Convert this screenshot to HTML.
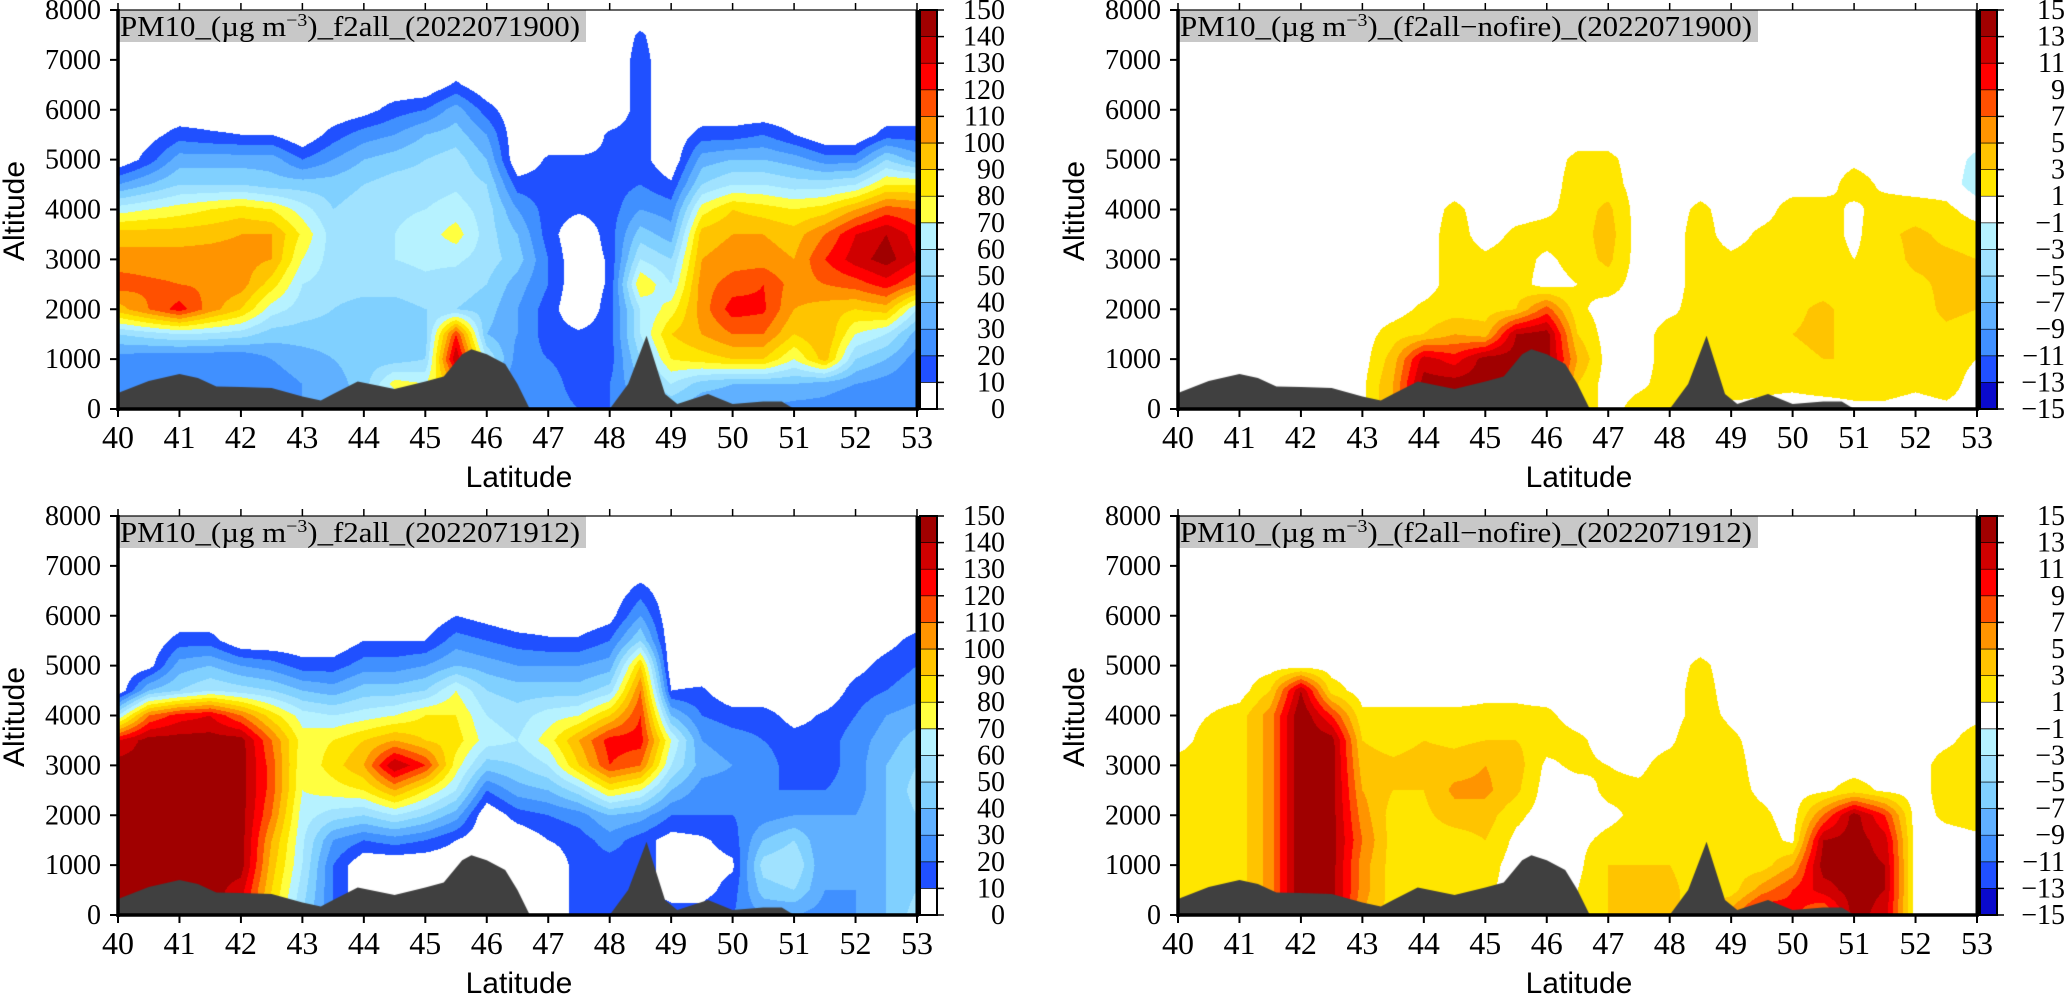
<!DOCTYPE html>
<html><head><meta charset="utf-8">
<style>
html,body{margin:0;padding:0;background:#fff;}
#wrap{position:relative;width:2067px;height:995px;overflow:hidden;background:#fff;}
canvas{position:absolute;}
svg{position:absolute;left:0;top:0;}
</style></head>
<body>
<div id="wrap">
<canvas id="cA" width="799" height="399" style="left:118px;top:10px"></canvas>
<canvas id="cB" width="799" height="399" style="left:1178px;top:10px"></canvas>
<canvas id="cC" width="799" height="399" style="left:118px;top:516px"></canvas>
<canvas id="cD" width="799" height="399" style="left:1178px;top:516px"></canvas>
<svg id="ov" width="2067" height="995"></svg>
</div>
<script>
// ---- data ----
const lats = [40,40.5,41,41.5,42,42.5,43,43.5,44,44.5,45,45.5,46,46.5,47,47.5,48,48.5,49,49.5,50,50.5,51,51.5,52,52.5,53];
const alts = [0,500,1000,1500,2000,2500,3000,3500,4000,4500,5000,5500,6000,6500,7000,7500,8000];
const terrainLat = [40,40.5,41,41.3,41.6,42,42.5,43,43.3,43.5,43.9,44.5,45,45.3,45.6,45.75,46,46.3,46.5,46.7,48,48.3,48.6,48.9,49.1,49.6,50,50.5,50.8,51,53];
const terrainAlt = [320,560,700,620,450,440,420,250,170,300,550,400,550,650,1100,1200,1100,900,500,0,0,500,1470,300,100,300,100,150,150,0,0];
const absTicks = [0,10,20,30,40,50,60,70,80,90,100,110,120,130,140,150];
const diffTicks = [-15,-13,-11,-9,-7,-5,-3,-1,1,3,5,7,9,11,13,15];
const absColors = ["#ffffff","#2050ff","#4090ff","#60b0ff","#80d0ff","#a0e2ff","#b6f2ff","#ffff40","#ffe600","#ffc400","#ff9400","#ff5000","#ff0000","#d00000","#a00000"];
const diffColors = ["#0a0acc","#2050ff","#4090ff","#60b0ff","#80d0ff","#a0e2ff","#b6f2ff","#ffffff","#ffe600","#ffc400","#ff9400","#ff5000","#ff0000","#d00000","#a00000"];
const xTicks = [40,41,42,43,44,45,46,47,48,49,50,51,52,53];
const yTicks = [0,1000,2000,3000,4000,5000,6000,7000,8000];

const fieldA = [
[20,20,25,50,95,115,105,95,65,30,0],
[20,20,22,55,110,112,105,95,70,40,15,5],
[20,20,20,60,125,110,105,95,75,50,35,15],
[20,20,20,58,105,108,105,97,80,50,35,12],
[20,20,20,55,90,105,105,100,85,50,35,10],
[25,25,30,45,65,85,100,100,80,45,35,10],
[30,30,35,45,55,60,70,78,65,45,20],
[30,35,40,45,50,55,55,55,50,45,30,15],
[40,45,45,40,45,55,58,58,55,50,40,25,5],
[50,75,45,40,45,55,60,60,58,55,45,30,15],
[60,70,50,45,50,58,62,65,60,55,50,40,20],
[60,100,140,120,50,55,62,75,65,58,55,45,35,12],
[40,40,60,40,45,50,55,55,55,50,40,30,15],
[20,20,25,30,30,35,45,40,30,15],
[25,25,20,15,15,20,20,15,15,15,12],
[20,15,15,12,0,0,0,0,12,15,12],
[20,20,15,15,15,12,12,15,15,15,12,12],
[30,40,50,60,60,80,60,45,30,20,15,15,15,15,15,12],
[40,60,80,90,75,60,50,35,25,12],
[30,45,85,100,105,105,100,95,75,50,35,15],
[30,40,90,110,125,115,105,100,90,60,40,15],
[30,40,90,110,122,120,105,100,85,60,40,20],
[25,40,70,90,100,105,100,95,80,55,35,10],
[25,35,95,100,95,110,120,110,85,55,25],
[20,30,50,70,90,115,135,130,100,60,25],
[20,25,40,60,95,125,145,140,115,80,50,15],
[20,20,25,35,60,110,130,125,110,80,35,15]];

const fieldB = [
[],[],[],[],[],[],
[0.5,0.5],
[5,5,4,2],
[14,14,12,3,1.5],
[14,14,10,5,2,2,2,2,1.5],
[14,14,14,4,2,2,1.5],
[14,14,14,13,3,2,2,1.5],
[14,14,14,14,8,0,0.5,2,0.5],
[3,3,5,3,1.5,1,2,2,2,2,1.5],
[0,0,0,0,0,2,3.5,4,3.5,2,1.5],
[2,0.5],
[2,2,2,2,0.5],
[2,2,2,1,2,2,2,2,1.5],
[0.5,2,2,2,2,2,1.5],
[0.5,1.5,3,2,2,2,2,1.5],
[0,1.5,2.5,3,2.5,2,2,2,2],
[0,2,3,3.5,3.5,2,2,2,2],
[0.5,2,3,2,2,2,1,0.5,0.5,2,0.5],
[0.5,2,2,2,2,2,2,2.5,2,0.5],
[0,1.5,2,2,2,2.5,3.5,3.5,2],
[0.5,2,2,2.5,3.5,3.5,3.5,2.5,1.5],
[0,0,1,2,3,3.5,3,2,0,-2,-1.5]];

const fieldC = [
[145,145,145,145,145,145,145,130,60],
[145,145,145,145,145,145,145,145,110,40,5],
[145,145,145,145,145,145,145,145,125,50,35,15],
[145,145,145,145,145,145,145,145,130,60,40,15],
[130,135,145,145,145,145,145,145,110,55,30],
[85,90,95,100,110,115,115,110,85,50,25],
[50,55,60,62,65,70,72,75,65,40,15],
[20,20,20,30,55,75,85,80,60,35,15],
[0,0,0,20,50,80,100,90,65,45,25,10],
[0,0,0,25,60,100,140,100,70,45,25,10],
[0,0,0,20,50,80,120,90,80,50,30,10],
[0,0,0,10,35,60,75,85,80,70,40,25,10],
[0,0,0,0,0,20,45,65,60,50,35,20,5],
[0,0,0,0,15,35,50,60,55,45,30,15],
[0,0,0,10,20,40,60,75,65,45,30,12],
[15,15,15,15,25,55,90,100,70,45,30,12],
[15,15,15,25,40,80,120,125,90,55,35,20,5],
[15,15,15,15,35,70,110,125,120,110,90,50,30,15],
[15,5,5,5,20,40,60,70,40,10],
[15,5,5,8,20,25,35,30,20,12],
[20,15,8,15,20,25,30,25,15],
[30,45,55,40,25,20,25,20,15],
[30,50,60,50,30,20,15,15,5],
[25,30,30,30,30,20,15,15,12],
[30,30,30,35,30,25,25,25,20,15,5],
[40,40,40,40,40,40,40,35,30,20,15,5],
[55,50,50,50,50,55,50,45,35,25,20,15]];

const fieldD = [
[2,2,2,2,2,2,2],
[2,2,2,2,2,2,2,2,1],
[2,2,2,2,2,2,2,2,2],
[6,6,6,6,6,6,6,6,6,3],
[15,15,15,15,15,15,15,15,15,13],
[14,14,14,14,14,14,14,14,9,2],
[5,6,6,7,6,5,4,3,1.5],
[2,2,2,2,2,3,3.5,2,1.5],
[2,2,2,2,2.5,3,4,3,1.5],
[0.5,2,2,2,4,5.5,4,2.5,1.5],
[0.5,1.5,2,3,4,5.5,5,3,1.5,0.5],
[0,0,0,0.5,1.5,3.5,4,3,1.5,0.5],
[0,0,0,0,0,0,0.5,2,1.5],
[0.5,1,0.5,0.5,0,0,1.5,1.5],
[3,3,3,1.5,0.5,1.5,1],
[3.5,3.5,3,2,1.5,1.5,0.5],
[3.5,3.5,3,2,2,2,2,0.5],
[2,2,2,2,2,2,2.5,3,2,2,1.5],
[6,2,2,2,2,2,2,1.5,0.5],
[12,6,2,2,1.5,0.5],
[10,9,5,0.5],
[6,12,14,13,7,0.5],
[14,14,14,14,14,2],
[12,13,13,12,9,0.5],
[],
[0,0,0,0,1.5,2,2,0.5],
[0,0,0,0.5,2,2,2,2,0.5]];

// ---- rendering ----
const W = 799, H = 399;
const latMin = lats[0], latMax = lats[lats.length-1], altMax = alts[alts.length-1];
const xScale = lat => (lat - latMin) / (latMax - latMin) * W;
const yScale = a => H - a / altMax * H;
function hex(c){return [parseInt(c.slice(1,3),16),parseInt(c.slice(3,5),16),parseInt(c.slice(5,7),16)];}
function val(field,i,j){const c=field[i]; return (c && j<c.length)?c[j]:0;}
function sample(field,lat,alt){
  const dl = lats[1]-lats[0], da = alts[1]-alts[0];
  let fx=(lat-latMin)/dl, fy=alt/da;
  let i=Math.min(Math.floor(fx),lats.length-2), j=Math.min(Math.floor(fy),alts.length-2);
  if(i<0)i=0; if(j<0)j=0;
  const tx=fx-i, ty=fy-j;
  const v00=val(field,i,j),v10=val(field,i+1,j),v01=val(field,i,j+1),v11=val(field,i+1,j+1);
  return (v00*(1-tx)+v10*tx)*(1-ty)+(v01*(1-tx)+v11*tx)*ty;
}
function drawField(id,field,ticks,colors){
  const cv=document.getElementById(id), ctx=cv.getContext('2d');
  const img=ctx.createImageData(W,H), rgb=colors.map(hex);
  const lo=ticks[0], step=ticks[1]-ticks[0], n=colors.length;
  for(let py=0;py<H;py++){
    const alt=altMax*(1-(py+0.5)/H);
    for(let px=0;px<W;px++){
      const lat=latMin+(px+0.5)/W*(latMax-latMin);
      const v=sample(field,lat,alt);
      let k=Math.floor((v-lo)/step); if(k<0)k=0; if(k>n-1)k=n-1;
      const c=rgb[k], o=(py*W+px)*4;
      img.data[o]=c[0];img.data[o+1]=c[1];img.data[o+2]=c[2];img.data[o+3]=255;
    }
  }
  ctx.putImageData(img,0,0);
  ctx.fillStyle='#404040';
  ctx.beginPath(); ctx.moveTo(xScale(terrainLat[0]),H);
  for(let k=0;k<terrainLat.length;k++) ctx.lineTo(xScale(terrainLat[k]),yScale(terrainAlt[k]));
  ctx.lineTo(W,H); ctx.closePath(); ctx.fill();
}
drawField('cA',fieldA,absTicks,absColors);
drawField('cB',fieldB,diffTicks,diffColors);
drawField('cC',fieldC,absTicks,absColors);
drawField('cD',fieldD,diffTicks,diffColors);

// ---- axes ----
const NS='http://www.w3.org/2000/svg', svg=document.getElementById('ov');
function el(tag,attrs,parent){const e=document.createElementNS(NS,tag);for(const k in attrs)e.setAttribute(k,attrs[k]);(parent||svg).appendChild(e);return e;}
const panels=[
 {x:118,y:10,ticks:absTicks,colors:absColors,stamp:'f2all_(2022071900)',tw:460,name:'f2all-00'},
 {x:1178,y:10,ticks:diffTicks,colors:diffColors,stamp:'(f2all\u2212nofire)_(2022071900)',tw:572,name:'diff-00'},
 {x:118,y:516,ticks:absTicks,colors:absColors,stamp:'f2all_(2022071912)',tw:460,name:'f2all-12'},
 {x:1178,y:516,ticks:diffTicks,colors:diffColors,stamp:'(f2all\u2212nofire)_(2022071912)',tw:572,name:'diff-12'}];
const serif='"Liberation Serif", serif', sans='"Liberation Sans", sans-serif';
panels.forEach(p=>{
  const g=el('g',{});
  
  
  const bw=p.tw+8;
  const box=el('rect',{x:p.x,y:p.y,width:bw,height:32,fill:'#c8c8c8'},g);
  
  
  const t=el('text',{x:p.x+2,y:p.y+26,'font-family':serif,'font-size':28,fill:'#000',textLength:p.tw,lengthAdjust:'spacingAndGlyphs'},g);
  
  
  t.appendChild(document.createTextNode('PM10_(\u00b5g m'));
  const sup=el('tspan',{dy:-10,'font-size':18},t); sup.textContent='\u22123';
  const rest=el('tspan',{dy:10},t); rest.textContent=')_'+p.stamp;
  // frame
  el('rect',{x:p.x,y:p.y,width:W,height:H,fill:'none',stroke:'#000','stroke-width':1.2},g);
  el('line',{x1:p.x,y1:p.y-1,x2:p.x,y2:p.y+H+2,stroke:'#000','stroke-width':3.5},g);
  el('line',{x1:p.x-1,y1:p.y+H,x2:p.x+W+2,y2:p.y+H,stroke:'#000','stroke-width':3.5},g);
  // y ticks
  yTicks.forEach(v=>{
    const yy=p.y+yScale(v);
    el('line',{x1:p.x-8,y1:yy,x2:p.x,y2:yy,stroke:'#000','stroke-width':2},g);
    const tl=el('text',{x:p.x-17,y:yy+9,'text-anchor':'end','font-family':serif,'font-size':28},g);
    
    
    tl.textContent=v;
  });
  // x ticks
  xTicks.forEach(v=>{
    const xx=p.x+xScale(v);
    el('line',{x1:xx,y1:p.y+H,x2:xx,y2:p.y+H+8,stroke:'#000','stroke-width':2},g);
    el('line',{x1:xx,y1:p.y,x2:xx,y2:p.y-7,stroke:'#000','stroke-width':1.5},g);
    const tl=el('text',{x:xx,y:p.y+H+39,'text-anchor':'middle','font-family':serif,'font-size':32},g);
    
    
    tl.textContent=v;
  });
  const xt=el('text',{x:p.x+401,y:p.y+H+78,'text-anchor':'middle','font-family':sans,'font-size':30},g);
  
  
  xt.textContent='Latitude';
  const yt=el('text',{x:0,y:0,'text-anchor':'middle','font-family':sans,'font-size':30,transform:'translate('+(p.x-94)+','+(p.y+201)+') rotate(-90)'},g);
  
  
  yt.textContent='Altitude';
  // colorbar
  const cbx=p.x+W+3, cbw=17, n=p.colors.length, ch=H/n;
  p.colors.forEach((c,k)=>{
    const r=el('rect',{x:cbx,y:p.y+H-(k+1)*ch,width:cbw,height:ch,fill:c,stroke:'#000','stroke-width':0.6},g);
    
    
  });
  el('line',{x1:p.x+W+1,y1:p.y,x2:p.x+W+1,y2:p.y+H,stroke:'#000','stroke-width':5},g);
  el('rect',{x:cbx,y:p.y,width:cbw,height:H,fill:'none',stroke:'#000','stroke-width':2},g);
  p.ticks.forEach((v,k)=>{
    const yy=p.y+H-k*ch;
    el('line',{x1:cbx+cbw,y1:yy,x2:cbx+cbw+7,y2:yy,stroke:'#000','stroke-width':1.5},g);
    const tl=el('text',{x:p.x+W+88,y:yy+9,'text-anchor':'end','font-family':serif,'font-size':28},g);
    
    
    tl.textContent=String(v).replace('-','\u2212');
  });
});
</script>
</body></html>
